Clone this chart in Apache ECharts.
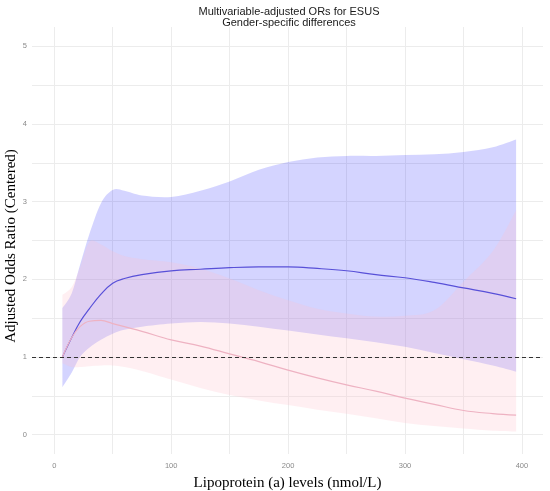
<!DOCTYPE html>
<html>
<head>
<meta charset="utf-8">
<title>Multivariable-adjusted ORs for ESUS</title>
<script src="https://cdn.jsdelivr.net/npm/echarts@6/dist/echarts.min.js"></script>
<style>
  html, body { margin: 0; padding: 0; background: #fff; }
  #chart { width: 550px; height: 491px; }
</style>
</head>
<body>
<div id="chart"></div>
<script>
"use strict";
// Lp(a) levels (nmol/L) where the curves were read
var lpa = [7, 15, 22, 30, 40, 50, 60, 75, 100, 125, 150, 175, 200, 225, 250, 275, 300, 325, 350, 375, 395];
// blue group: fit + confidence band
var blueFit  = [1.00, 1.25, 1.45, 1.62, 1.81, 1.95, 2.01, 2.06, 2.11, 2.13, 2.15, 2.16, 2.16, 2.14, 2.11, 2.06, 2.02, 1.96, 1.89, 1.82, 1.75];
var blueLow  = [0.61, 0.80, 1.00, 1.12, 1.22, 1.30, 1.35, 1.39, 1.43, 1.45, 1.43, 1.39, 1.34, 1.29, 1.24, 1.19, 1.13, 1.05, 0.97, 0.89, 0.81];
var blueHigh = [1.63, 1.82, 2.18, 2.58, 2.98, 3.15, 3.14, 3.08, 3.06, 3.14, 3.26, 3.41, 3.51, 3.57, 3.59, 3.59, 3.60, 3.61, 3.64, 3.70, 3.80];
// pink group: fit + confidence band
var pinkFit  = [1.00, 1.25, 1.39, 1.46, 1.47, 1.43, 1.39, 1.33, 1.22, 1.14, 1.04, 0.94, 0.83, 0.73, 0.64, 0.56, 0.47, 0.39, 0.31, 0.27, 0.25];
var pinkLow  = [0.92, 0.87, 0.87, 0.88, 0.89, 0.89, 0.87, 0.82, 0.71, 0.60, 0.51, 0.44, 0.38, 0.32, 0.27, 0.21, 0.15, 0.11, 0.08, 0.05, 0.04];
var pinkHigh = [1.80, 1.90, 2.15, 2.48, 2.45, 2.36, 2.30, 2.26, 2.22, 2.14, 2.01, 1.86, 1.73, 1.62, 1.56, 1.52, 1.53, 1.60, 1.97, 2.36, 2.89];
// axis ticks
var xLabels = [0, 100, 200, 300, 400];
var xGrid = [0, 50, 100, 150, 200, 250, 300, 350, 400];
var yLabels = [0, 1, 2, 3, 4, 5];
var yGrid = [0, 0.5, 1, 1.5, 2, 2.5, 3, 3.5, 4, 4.5, 5];
var refLine = 1;

function pairs(ys) {
    return lpa.map(function (x, i) { return [x, ys[i]]; });
}
function bandRows(lo, hi) {
    return lpa.map(function (x, i) { return [x, lo[i], hi[i]]; });
}
// catmull-rom through already projected points -> svg path segments
function curve(pts, start) {
    var d = start + pts[0][0].toFixed(2) + ' ' + pts[0][1].toFixed(2);
    for (var i = 0; i < pts.length - 1; i++) {
        var p0 = pts[i - 1] || pts[i], p1 = pts[i], p2 = pts[i + 1], p3 = pts[i + 2] || p2;
        var c1x = p1[0] + (p2[0] - p0[0]) / 6, c1y = p1[1] + (p2[1] - p0[1]) / 6;
        var c2x = p2[0] - (p3[0] - p1[0]) / 6, c2y = p2[1] - (p3[1] - p1[1]) / 6;
        d += ' C' + c1x.toFixed(2) + ' ' + c1y.toFixed(2) + ' ' + c2x.toFixed(2) + ' ' + c2y.toFixed(2) +
             ' ' + p2[0].toFixed(2) + ' ' + p2[1].toFixed(2);
    }
    return d;
}
function bandSeries(lo, hi, fill) {
    return {
        type: 'custom',
        data: bandRows(lo, hi),
        encode: {x: 0, y: [1, 2]},
        renderItem: function (params, api) {
            if (params.dataIndex !== 0) return;
            var top = [], bottom = [];
            for (var i = 0; i < lpa.length; i++) {
                top.push(api.coord([lpa[i], hi[i]]));
                bottom.push(api.coord([lpa[i], lo[i]]));
            }
            bottom.reverse();
            return {
                type: 'path',
                shape: {pathData: curve(top, 'M') + ' ' + curve(bottom, 'L') + ' Z'},
                style: {fill: fill},
                silent: true
            };
        },
        silent: true,
        z: 1
    };
}

var chart = echarts.init(document.getElementById('chart'), null, {renderer: 'canvas'});
var serif = '"Liberation Serif", "DejaVu Serif", serif';
var sans = '"Liberation Sans", Arial, sans-serif';

var option = {
    animation: false,
    backgroundColor: '#fff',
    graphic: [{
        type: 'text',
        x: 289,
        y: 6,
        style: {
            text: 'Multivariable-adjusted ORs for ESUS\nGender-specific differences',
            textAlign: 'center',
            fontFamily: sans,
            fontSize: 11,
            lineHeight: 11.5,
            fill: '#1a1a1a'
        }
    }, {
        type: 'text',
        x: 11,
        y: 246,
        rotation: Math.PI / 2,
        style: {
            text: 'Adjusted Odds Ratio (Centered)',
            textAlign: 'center',
            textVerticalAlign: 'middle',
            fontFamily: serif,
            fontSize: 15,
            fill: '#000'
        }
    }],
    grid: {left: 32, right: 7, top: 27, bottom: 37, outerBoundsMode: 'none', containLabel: false},
    xAxis: {
        type: 'value',
        min: -19,
        max: 418,
        name: 'Lipoprotein (a) levels (nmol/L)',
        nameLocation: 'middle',
        nameGap: 22,
        nameTextStyle: {fontFamily: serif, fontSize: 15, color: '#000'},
        axisLine: {show: false},
        axisTick: {show: false, customValues: xGrid},
        axisLabel: {customValues: xLabels, color: '#8a8a8a', fontSize: 7.5, margin: 8, fontFamily: sans},
        splitLine: {show: true, lineStyle: {color: '#ececec', width: 1}}
    },
    yAxis: {
        type: 'value',
        min: -0.25,
        max: 5.25,
        axisLine: {show: false},
        axisTick: {show: false, customValues: yGrid},
        axisLabel: {customValues: yLabels, color: '#8a8a8a', fontSize: 7.5, margin: 5, fontFamily: sans},
        splitLine: {show: true, lineStyle: {color: '#ececec', width: 1}}
    },
    series: [
        bandSeries(blueLow, blueHigh, 'rgba(0,0,255,0.17)'),
        bandSeries(pinkLow, pinkHigh, 'rgba(255,192,203,0.25)'),
        {
            type: 'line', name: 'blue fit', data: pairs(blueFit), z: 3,
            smooth: 0.4, symbol: 'none', lineStyle: {color: '#5850d8', width: 1.2},
            markLine: {
                silent: true, symbol: 'none', label: {show: false},
                lineStyle: {color: '#333', type: [4, 3], width: 1},
                data: [{yAxis: refLine}]
            }
        },
        {
            type: 'line', name: 'pink fit', data: pairs(pinkFit), z: 3,
            smooth: 0.4, symbol: 'none', lineStyle: {color: '#eeb2c2', width: 1.2}
        }
    ]
};
chart.setOption(option);
</script>
</body>
</html>
